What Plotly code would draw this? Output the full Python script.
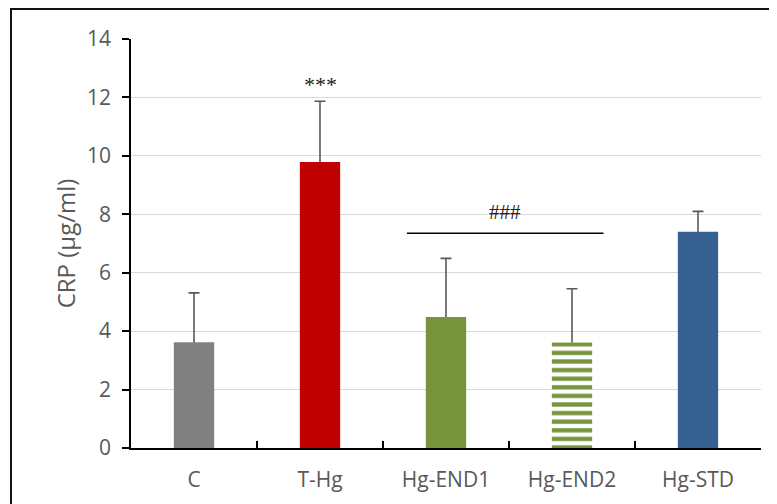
import plotly.graph_objects as go

categories = ["C", "T-Hg", "Hg-END1", "Hg-END2", "Hg-STD"]
means = [3.62, 9.79, 4.48, 3.61, 7.40]
sds = [1.69, 2.08, 2.01, 1.84, 0.70]
colors = ["#808080", "#C00000", "#77933C", "#77933C", "#376092"]
y_ticks = [0, 2, 4, 6, 8, 10, 12, 14]

fig = go.Figure()

# error bars (drawn beneath the bars so only the upper whisker shows)
fig.add_trace(go.Scatter(
    x=categories, y=[m + s for m, s in zip(means, sds)], mode="markers",
    marker=dict(size=1, color="rgba(0,0,0,0)"),
    error_y=dict(type="data", symmetric=False, array=[0] * len(sds),
                 arrayminus=[s + 0.3 for s in sds], color="#595959", thickness=1.6, width=5.5),
    showlegend=False, hoverinfo="skip", xaxis="x", yaxis="y",
))

for i, cat in enumerate(categories):
    marker = dict(color=colors[i], line=dict(width=0))
    if cat == "Hg-END2":
        marker = dict(color="#77933C", line=dict(width=0),
                      pattern=dict(shape="-", fgcolor="#77933C", bgcolor="white",
                                   size=8.6, solidity=0.5, fillmode="replace"))
    fig.add_trace(go.Bar(
        x=[cat], y=[means[i]], marker=marker, width=0.32,
        showlegend=False, xaxis="x", yaxis="y2",
    ))

# significance bar and labels
fig.add_shape(type="line", xref="x", yref="y", x0=1.69, x1=3.25, y0=7.35, y1=7.35,
              line=dict(color="black", width=1.5))
fig.add_annotation(x=2.47, y=8.07, xref="x", yref="y", text="###", showarrow=False,
                   font=dict(family="Liberation Serif", size=21, color="#222222"))
fig.add_annotation(x=1.0, y=12.45, xref="x", yref="y", text="***", showarrow=False,
                   font=dict(family="Liberation Serif", size=22, color="#222222"))

# outer frame
fig.add_shape(type="rect", xref="paper", yref="paper", x0=-0.1905, x1=1.1, y0=-0.2, y1=1.0733,
              line=dict(color="#111111", width=2), fillcolor="rgba(0,0,0,0)", layer="below")

fig.update_layout(
    width=769, height=496,
    margin=dict(l=123, r=16, t=31, b=56),
    plot_bgcolor="white", paper_bgcolor="white",
    bargap=0.68,
    font=dict(family="Open Sans", size=18, color="#595959"),
    xaxis=dict(type="category", categoryarray=categories, categoryorder="array",
               showline=True, linecolor="black", linewidth=1.5,
               ticks="inside", tickson="boundaries", ticklen=7, tickcolor="black", tickwidth=1.5,
               ticklabelstandoff=12,
               tickfont=dict(size=21, color="#595959"), showgrid=False, fixedrange=True),
    yaxis=dict(range=[0, 14], tickvals=y_ticks, showline=True, linecolor="black", linewidth=1.5,
               ticks="outside", ticklen=7, tickcolor="black", tickwidth=1.5,
               ticklabelstandoff=7,
               showgrid=True, gridcolor="#d9d9d9", gridwidth=1.3, zeroline=False,
               tickfont=dict(size=21, color="#595959"),
               title=dict(text="CRP (µg/ml)", font=dict(size=24, color="#595959"), standoff=5)),
    yaxis2=dict(range=[0, 14], overlaying="y", visible=False, showgrid=False, zeroline=False),
)

fig.write_html("out.html")
